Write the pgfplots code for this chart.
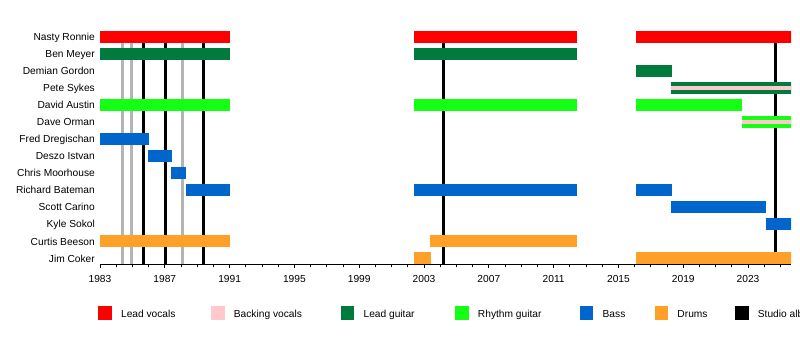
\documentclass[border=0pt]{standalone}
\usepackage{fontspec}
\setmainfont{Liberation Sans}
\usepackage{pgfplots}
\pgfplotsset{compat=1.18}
\definecolor{leadvoc}{RGB}{255,0,0}
\definecolor{backvoc}{RGB}{255,200,205}
\definecolor{leadgtr}{RGB}{0,122,61}
\definecolor{rhygtr}{RGB}{20,255,20}
\definecolor{bass}{RGB}{0,102,204}
\definecolor{drums}{RGB}{255,160,40}
\definecolor{otherrel}{RGB}{180,180,180}
% \tbar{colour}{row}{start}{end}
\newcommand{\tbar}[4]{\addplot[draw=#1, line width=12bp, line cap=butt, forget plot] coordinates {(#3,#2) (#4,#2)};}
% \sbar{colour}{stripe colour}{row}{start}{end}
\newcommand{\sbar}[5]{\tbar{#1}{#3}{#4}{#5}\addplot[draw=#2, line width=4bp, line cap=butt, forget plot] coordinates {(#4,#3) (#5,#3)};}
% \rel{colour}{date}
\newcommand{\rel}[2]{\addplot[draw=#1, line width=3bp, line cap=butt, forget plot] coordinates {(#2,-0.35) (#2,13.35)};}
\begin{document}
\begin{tikzpicture}[font=\fontsize{10.2bp}{12bp}\selectfont]
\useasboundingbox (0,0) rectangle (800bp,364bp);
\begin{axis}[
  at={(100bp,99.6bp)}, anchor=south west,
  scale only axis, width=691bp, height=233.7bp,
  xmin=1983, xmax=2025.65, ymin=-0.35, ymax=13.35,
  axis x line*=bottom, axis y line*=left,
  y axis line style={draw=none},
  x axis line style={-, line width=1bp},
  xtick={1983,1987,1991,1995,1999,2003,2007,2011,2015,2019,2023},
  xticklabels={1983,1987,1991,1995,1999,2003,2007,2011,2015,2019,2023},
  minor xtick={1984,1985,1986,1988,1989,1990,1992,1993,1994,1996,1997,1998,2000,2001,2002,2004,2005,2006,2008,2009,2010,2012,2013,2014,2016,2017,2018,2020,2021,2022,2024,2025},
  tick align=outside,
  major tick length=4bp, minor tick length=3bp,
  xtick style={black, line width=0.8bp},
  ytick={0,1,2,3,4,5,6,7,8,9,10,11,12,13},
  yticklabels={Jim Coker,Curtis Beeson,Kyle Sokol,Scott Carino,Richard Bateman,Chris Moorhouse,Deszo Istvan,Fred Dregischan,Dave Orman,David Austin,Pete Sykes,Demian Gordon,Ben Meyer,Nasty Ronnie},
  ytick style={draw=none},
  yticklabel style={anchor=east, inner sep=0pt, text height=7.3bp, text depth=0pt, xshift=-1bp},
  xticklabel style={anchor=north, inner sep=0pt, text height=7.3bp, text depth=0pt, yshift=-7bp},
  legend columns=-1,
  legend cell align=left,
  legend image code/.code={\fill[#1] (0bp,-5.35bp) rectangle (12.5bp,7.65bp);},
  legend style={at={(-0.00246,-0.178)}, anchor=north west, draw=none, fill=none,
    inner sep=0pt, outer sep=0pt, row sep=0pt, column sep=0pt,
    nodes={inner sep=0pt, outer sep=0pt, text height=7.3bp, text depth=0pt},
    /tikz/every odd column/.append style={column sep=9.9bp}},
]
% releases (grey: other, black: studio albums)
\rel{otherrel}{1984.38}
\rel{otherrel}{1984.96}
\rel{otherrel}{1988.10}
\rel{black}{1985.67}
\rel{black}{1987.07}
\rel{black}{1989.38}
\rel{black}{2004.19}
\rel{black}{2024.70}
% Nasty Ronnie
\tbar{leadvoc}{13}{1983}{1991}
\tbar{leadvoc}{13}{2002.4}{2012.45}
\tbar{leadvoc}{13}{2016.1}{2026}
% Ben Meyer
\tbar{leadgtr}{12}{1983}{1991}
\tbar{leadgtr}{12}{2002.4}{2012.45}
% Demian Gordon
\tbar{leadgtr}{11}{2016.1}{2018.3}
% Pete Sykes
\sbar{leadgtr}{backvoc}{10}{2018.27}{2026}
% David Austin
\tbar{rhygtr}{9}{1983}{1991}
\tbar{rhygtr}{9}{2002.4}{2012.45}
\tbar{rhygtr}{9}{2016.1}{2022.65}
% Dave Orman
\sbar{rhygtr}{backvoc}{8}{2022.65}{2026}
% Fred Dregischan
\tbar{bass}{7}{1983}{1986.0}
% Deszo Istvan
\tbar{bass}{6}{1985.95}{1987.42}
% Chris Moorhouse
\tbar{bass}{5}{1987.4}{1988.33}
% Richard Bateman
\tbar{bass}{4}{1988.3}{1991}
\tbar{bass}{4}{2002.4}{2012.45}
\tbar{bass}{4}{2016.1}{2018.3}
% Scott Carino
\tbar{bass}{3}{2018.27}{2024.13}
% Kyle Sokol
\tbar{bass}{2}{2024.13}{2026}
% Curtis Beeson
\tbar{drums}{1}{1983}{1991}
\tbar{drums}{1}{2003.38}{2012.45}
% Jim Coker
\tbar{drums}{0}{2002.4}{2003.4}
\tbar{drums}{0}{2016.1}{2026}
% legend
\addlegendimage{leadvoc}\addlegendentry{\makebox[90bp][l]{Lead vocals}}
\addlegendimage{backvoc}\addlegendentry{\makebox[106.9bp][l]{Backing vocals}}
\addlegendimage{leadgtr}\addlegendentry{\makebox[91.6bp][l]{Lead guitar}}
\addlegendimage{rhygtr}\addlegendentry{\makebox[101.9bp][l]{Rhythm guitar}}
\addlegendimage{bass}\addlegendentry{\makebox[52bp][l]{Bass}}
\addlegendimage{drums}\addlegendentry{\makebox[57.6bp][l]{Drums}}
\addlegendimage{black}\addlegendentry{Studio albums}
\end{axis}
\end{tikzpicture}
\end{document}
